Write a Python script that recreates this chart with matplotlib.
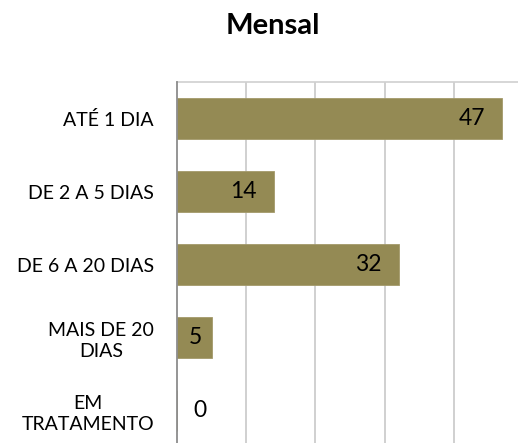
import matplotlib
matplotlib.use("Agg")
from matplotlib import pyplot as plt

plt.rcParams["font.family"] = ["Lato", "DejaVu Sans"]

categories = ["ATÉ 1 DIA", "DE 2 A 5 DIAS", "DE 6 A 20 DIAS", "MAIS DE 20\nDIAS", "EM\nTRATAMENTO"]
values = [47, 14, 32, 5, 0]
title = "Mensal"

bar_color = "#948A54"

fig = plt.figure(figsize=(5.18, 4.43), dpi=100)
ax = fig.add_axes([177 / 518, 0, 341 / 518, 1 - 82 / 443])

y = list(range(len(categories)))
ax.barh(y, values, height=0.57, color=bar_color, edgecolor="#a39a6a", linewidth=0.6, zorder=3)

ax.set_xlim(0, 49.25)
ax.set_ylim(4.445, -0.5)
ax.set_xticks([10, 20, 30, 40])
ax.xaxis.grid(True, color="#c8c8c8", linewidth=1.2, zorder=0)
ax.tick_params(axis="x", length=0, labelbottom=False)
ax.tick_params(axis="y", length=0, pad=16.5)
ax.set_yticks(y)
ax.set_yticklabels(categories, fontsize=14, multialignment="center", linespacing=1.3)

for side in ["right", "bottom"]:
    ax.spines[side].set_visible(False)
ax.spines["top"].set_color("#d0d0d0")
ax.spines["top"].set_linewidth(1.2)
ax.spines["left"].set_color("#8c8c8c")
ax.spines["left"].set_linewidth(1.3)
ax.spines["left"].set_zorder(4)

for yi, v in zip(y, values):
    if v == 0:
        ax.annotate(str(v), (0, yi), xytext=(16, 0), textcoords="offset pixels",
                    ha="left", va="center", fontsize=16.5, zorder=5)
    elif v < 8:
        ax.annotate(str(v), (v / 2, yi), xytext=(1, 0), textcoords="offset pixels",
                    ha="center", va="center", fontsize=16.5, zorder=5)
    else:
        ax.annotate(str(v), (v, yi), xytext=(-17, 0), textcoords="offset pixels",
                    ha="right", va="center", fontsize=16.5, zorder=5)

fig.text(273 / 518, 1 - 26 / 443, title, ha="center", va="center", fontsize=21, fontweight="bold")

fig.savefig("out.png", dpi=100)
plt.close(fig)
